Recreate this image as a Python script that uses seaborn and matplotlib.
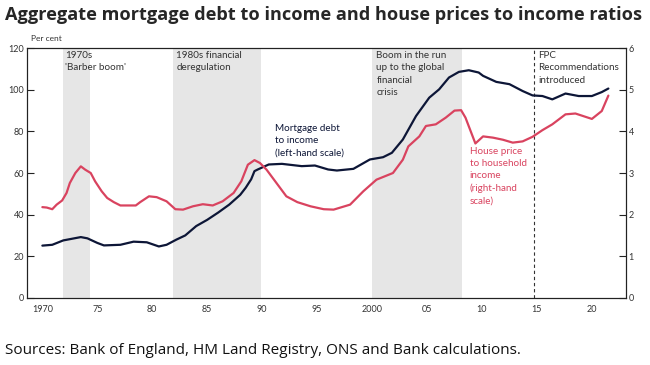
import matplotlib
matplotlib.use("Agg")
import matplotlib.pyplot as plt
import seaborn as sns
import pandas as pd

# Mortgage debt to income (per cent, left-hand scale)
debt_years = [1970.0, 1970.9, 1971.9, 1973.5, 1974.1, 1975.0, 1975.6, 1977.1, 1978.3, 1979.5,
              1980.6, 1981.3, 1982.2, 1983.0, 1984.0, 1985.0, 1986.0, 1987.0, 1988.0, 1988.5,
              1989.0, 1989.3, 1989.6, 1990.6, 1991.8, 1993.6, 1994.8, 1996.0, 1996.8, 1998.3,
              1999.8, 2001.0, 2001.8, 2002.8, 2004.0, 2005.2, 2006.1, 2007.0, 2007.9, 2008.8,
              2009.7, 2010.1, 2011.3, 2012.5, 2013.7, 2014.6, 2015.5, 2016.4, 2017.6, 2018.8,
              2020.0, 2020.9, 2021.5]
debt_values = [25.1, 25.5, 27.6, 29.2, 28.6, 26.4, 25.2, 25.5, 27.0, 26.7,
               24.7, 25.5, 28.0, 30.0, 34.5, 37.5, 41.0, 44.8, 49.5, 52.9,
               57.0, 60.9, 61.7, 64.1, 64.4, 63.3, 63.6, 61.7, 61.2, 62.0,
               66.5, 67.6, 69.7, 76.1, 87.4, 96.2, 100.2, 105.9, 108.6, 109.4,
               108.3, 106.7, 103.8, 102.7, 99.4, 97.3, 97.0, 95.4, 98.2, 97.0,
               97.0, 98.9, 100.6]

# House price to household income (ratio, right-hand scale)
price_years = [1970.0, 1970.4, 1970.9, 1971.3, 1971.8, 1972.2, 1972.5, 1973.0, 1973.5, 1973.9,
               1974.4, 1974.8, 1975.4, 1975.9, 1976.5, 1977.1, 1978.5, 1978.9, 1979.7, 1980.4,
               1981.3, 1982.1, 1982.8, 1983.7, 1984.6, 1985.5, 1986.4, 1987.4, 1988.1, 1988.7,
               1989.3, 1989.8, 1990.4, 1991.3, 1992.2, 1993.2, 1994.4, 1995.6, 1996.5, 1998.0,
               1999.2, 2000.4, 2001.9, 2002.8, 2003.3, 2004.3, 2004.9, 2005.8, 2006.7, 2007.5,
               2008.1, 2008.5, 2009.4, 2010.1, 2011.0, 2011.9, 2012.8, 2013.7, 2014.6, 2015.5,
               2016.4, 2017.6, 2018.5, 2020.0, 2020.9, 2021.5]
price_values = [2.18, 2.17, 2.13, 2.24, 2.34, 2.52, 2.76, 3.00, 3.16, 3.08,
                3.00, 2.80, 2.56, 2.40, 2.30, 2.22, 2.22, 2.30, 2.44, 2.42,
                2.32, 2.13, 2.12, 2.20, 2.25, 2.22, 2.32, 2.52, 2.80, 3.20,
                3.31, 3.24, 3.08, 2.76, 2.44, 2.30, 2.20, 2.13, 2.12, 2.24,
                2.56, 2.84, 3.00, 3.32, 3.64, 3.88, 4.13, 4.17, 4.33, 4.50,
                4.51, 4.33, 3.71, 3.88, 3.85, 3.80, 3.73, 3.76, 3.87, 4.03,
                4.17, 4.41, 4.43, 4.30, 4.49, 4.86]

# shaded episodes and FPC line
episodes = [(1971.9, 1974.3), (1981.9, 1989.9), (2000.0, 2008.2)]
fpc_year = 2014.7
tick_years = list(range(1970, 2023))
label_years = [1970, 1975, 1980, 1985, 1990, 1995, 2000, 2005, 2010, 2015, 2020]
label_text = ['1970', '75', '80', '85', '90', '95', '2000', '05', '10', '15', '20']

navy = '#0d1637'
red = '#d9435f'
grey_txt = '#333333'

sns.set_style('white')
plt.rcParams['font.family'] = ['Lato', 'DejaVu Sans']

df_debt = pd.DataFrame({'year': debt_years, 'value': debt_values})
df_price = pd.DataFrame({'year': price_years, 'value': price_values})

fig = plt.figure(figsize=(6.5, 3.65), dpi=100)
ax = fig.add_axes([0.0415, 0.184, 0.9215, 0.684])
ax2 = ax.twinx()

for start, end in episodes:
    ax.axvspan(start, end, color='#e6e6e6', lw=0, zorder=0)
ax.axvline(fpc_year, color='#333333', lw=0.8, ls=(0, (3, 2.5)), zorder=1)

sns.lineplot(data=df_debt, x='year', y='value', ax=ax, color=navy, lw=1.6, zorder=3)
sns.lineplot(data=df_price, x='year', y='value', ax=ax2, color=red, lw=1.6, zorder=3)

ax.set_xlim(1968.6, 2023.1)
ax.set_ylim(0, 120)
ax2.set_ylim(0, 6)
ax.set_yticks(range(0, 121, 20))
ax2.set_yticks(range(0, 7))
ax.set_xticks(tick_years, minor=True)
ax.set_xticks(label_years)
ax.set_xticklabels(label_text)
ax.set_xlabel('')
ax.set_ylabel('')
ax2.set_ylabel('')

ax.tick_params(axis='x', which='both', direction='in', length=6, width=0.8,
               color='#222222', labelsize=6.5, labelcolor=grey_txt, pad=5)
ax.tick_params(axis='y', direction='in', length=5, width=0.8, color='#222222',
               labelsize=6.5, labelcolor=grey_txt, pad=2)
ax2.tick_params(axis='y', direction='in', length=5, width=0.8, color='#222222',
                labelsize=6.5, labelcolor=grey_txt, pad=2)
for a in (ax, ax2):
    for s in a.spines.values():
        s.set_color('#222222')
        s.set_linewidth(0.8)

ax.text(1969.0, 123, 'Per cent', fontsize=6, color=grey_txt, va='bottom')

note_kw = dict(fontsize=7.1, va='top', ha='left', linespacing=1.45)
ax.text(1972.1, 118.5, "1970s\n'Barber boom'", color=grey_txt, **note_kw)
ax.text(1982.2, 118.5, '1980s financial\nderegulation', color=grey_txt, **note_kw)
ax.text(2000.4, 118.5, 'Boom in the run\nup to the global\nfinancial\ncrisis', color=grey_txt, **note_kw)
ax.text(2015.1, 118.5, 'FPC\nRecommendations\nintroduced', color=grey_txt, **note_kw)
ax.text(1991.2, 83.5, 'Mortgage debt\nto income\n(left-hand scale)', color=navy, **note_kw)
ax.text(2008.9, 72.5, 'House price\nto household\nincome\n(right-hand\nscale)', color=red, **note_kw)

fig.text(0.008, 0.958, 'Aggregate mortgage debt to income and house prices to income ratios',
         fontsize=13.1, fontweight='bold', family=['Open Sans', 'DejaVu Sans'], va='center')
fig.text(0.008, 0.04, 'Sources: Bank of England, HM Land Registry, ONS and Bank calculations.',
         fontsize=11.0, family=['Open Sans', 'DejaVu Sans'], va='center', color='#111111')

fig.savefig('out.png', dpi=100)
